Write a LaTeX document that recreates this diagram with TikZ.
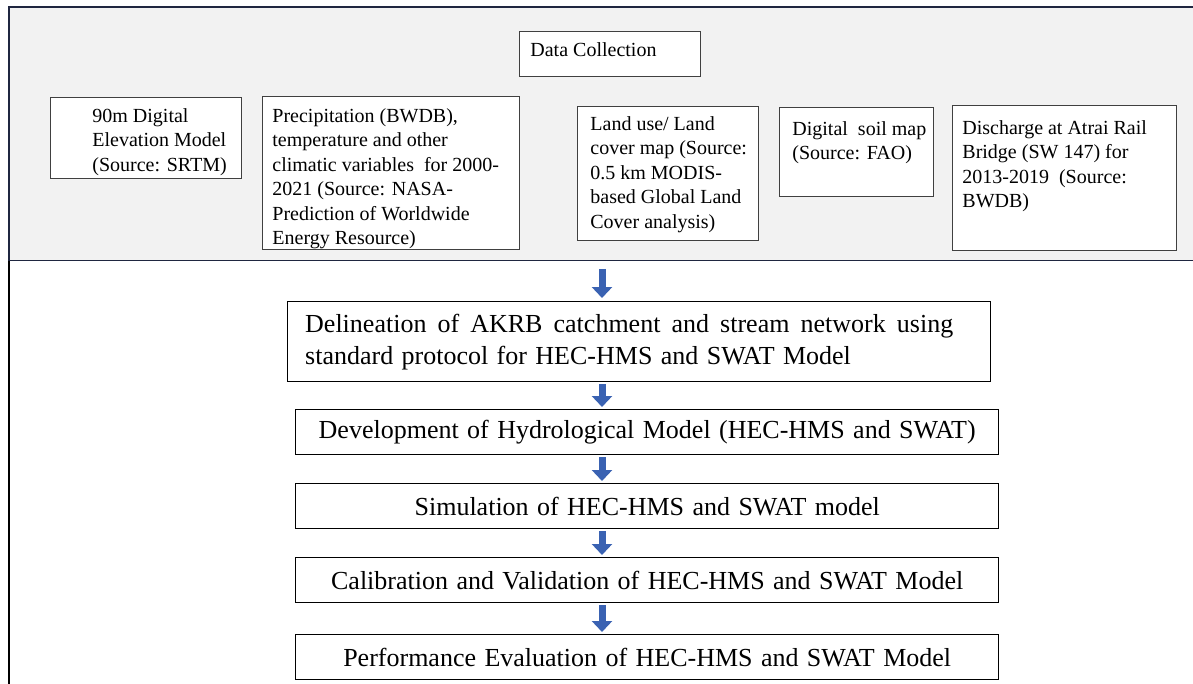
\documentclass[tikz,border=0pt]{standalone}
\usepackage{fontspec}
\setmainfont{Liberation Serif}
\usetikzlibrary{arrows.meta}

\definecolor{panelgray}{RGB}{242,242,242}
\definecolor{panelline}{RGB}{31,38,64}
\definecolor{arrowblue}{RGB}{58,98,178}
\newcommand{\widespace}{\spaceskip=4.2pt plus 3pt minus 1pt\relax}

\begin{document}
\begin{tikzpicture}[x=0.5pt,y=-0.5pt,
  databox/.style={draw=black!75,line width=0.5pt,fill=white,anchor=north west,inner sep=0pt},
  datatext/.style={anchor=north west,inner sep=0pt,align=left,font=\fontsize{10}{12.25}\selectfont},
  stepbox/.style={draw=black,line width=0.7pt,fill=white,anchor=north west,
    minimum width=351.5pt,minimum height=22.5pt,inner sep=0pt,
    font=\fontsize{13}{16}\selectfont,execute at begin node=\widespace},
  flowarrow/.style={arrowblue,line width=3.5pt,-{Triangle[width=10pt,length=5.5pt]},
    shorten <=1pt,shorten >=1pt}]

\useasboundingbox (0,0) rectangle (1193,684);

\node[fill=panelgray,anchor=north west,minimum width=592pt,minimum height=126.5pt,inner sep=0pt] (panel) at (9,7) {};
\draw[panelline,line width=1pt] (panel.north east) -- (panel.north west) -- (panel.south west);
\draw[panelline,line width=0.6pt] (panel.south west) -- (panel.south east);
\draw[black,line width=0.8pt] (panel.south west) -- (9,684);

% data sources
\node[databox,minimum width=90.5pt,minimum height=22.5pt] (datacol) at (519,31) {};
\node[datatext] (datacoltext) at (530,42) {Data Collection};

\node[databox,minimum width=95.5pt,minimum height=40.5pt] (dem) at (50,97) {};
\node[datatext] (demtext) at (92,108) {90m Digital\\Elevation Model\\(Source: SRTM)};

\node[databox,minimum width=128.5pt,minimum height=76.5pt] (precip) at (262,96) {};
\node[datatext] (preciptext) at (272,108) {Precipitation (BWDB),\\temperature and other\\climatic variables\ \ for 2000-\\2021 (Source: NASA-\\Prediction of Worldwide\\Energy Resource)};

\node[databox,minimum width=90.5pt,minimum height=67pt] (landuse) at (577,106) {};
\node[datatext] (landusetext) at (590,116) {Land use/ Land\\cover map (Source:\\0.5 km MODIS-\\based Global Land\\Cover analysis)};

\node[databox,minimum width=77pt,minimum height=44.5pt] (soil) at (779,107) {};
\node[datatext] (soiltext) at (792,121) {Digital\ \ soil map\\(Source: FAO)};

\node[databox,minimum width=112pt,minimum height=72.5pt] (discharge) at (952,105) {};
\node[datatext] (dischargetext) at (962,120) {Discharge at Atrai Rail\\Bridge (SW 147) for\\2013-2019\ \ (Source:\\BWDB)};

% modelling steps
\node[stepbox,minimum height=40pt] (delin) at (287,301)
  {\parbox{324pt}{\widespace Delineation of AKRB catchment and stream network using standard protocol for HEC-HMS and SWAT Model}\hspace*{10pt}};
\node[stepbox] (develop) at (295,409) {Development of Hydrological Model (HEC-HMS and SWAT)};
\node[stepbox] (simul) at (295,483) {Simulation of HEC-HMS and SWAT model};
\node[stepbox] (calib) at (295,557) {Calibration and Validation of HEC-HMS and SWAT Model};
\node[stepbox] (perf) at (295,634) {Performance Evaluation of HEC-HMS and SWAT Model};

\coordinate (ax) at (602,0);
\draw[flowarrow,shorten <=4pt,shorten >=1.5pt] (panel.south -| ax) -- (delin.north -| ax);
\foreach \a/\b in {delin/develop,develop/simul,simul/calib,calib/perf}
  \draw[flowarrow] (\a.south -| ax) -- (\b.north -| ax);

\end{tikzpicture}
\end{document}
